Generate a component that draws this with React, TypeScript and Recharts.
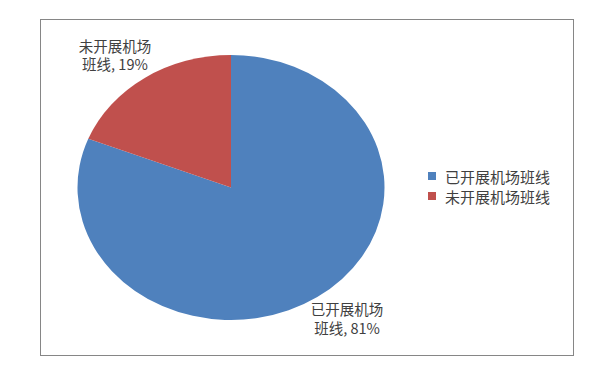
import { Cell, Legend, Pie, PieChart } from "recharts";

const categories = ["已开展机场班线", "未开展机场班线"];
const shares = [81, 19];
const labelLines = [
  ["已开展机场", "班线, 81%"],
  ["未开展机场", "班线, 19%"],
];

const COLORS = ["#4F81BD", "#C0504D"];
const FONT = "'Noto Sans CJK SC', 'Noto Sans', sans-serif";
const TEXT = "#404040";

// chart area is stretched wider than tall in the original
const CX = 231;
const CY = 187.5;
const RX = 153.5;
const RY = 132.5;
const SQUASH = RY / RX;

const data = categories.map((name, i) => ({ name, value: shares[i], lines: labelLines[i] }));

const RADIAN = Math.PI / 180;

function renderLabel(props: any) {
  const { cx, cy, midAngle, outerRadius, index } = props;
  const x = cx + Math.cos(-midAngle * RADIAN) * outerRadius * 1.345;
  const y = cy + Math.sin(-midAngle * RADIAN) * outerRadius * SQUASH * 1.2;
  const lines = data[index].lines;
  return (
    <text x={x} y={y} textAnchor="middle" fill={TEXT} fontSize={14.5} fontFamily={FONT}>
      <tspan x={x} dy={-4}>{lines[0]}</tspan>
      <tspan x={x} dy={18.5}>{lines[1]}</tspan>
    </text>
  );
}

function LegendContent() {
  return (
    <div style={{ fontFamily: FONT, fontSize: 15, color: TEXT }}>
      {categories.map((name, i) => (
        <div key={name} style={{ display: "flex", alignItems: "center", height: 20 }}>
          <span style={{ width: 8, height: 8, background: COLORS[i], marginRight: 9, display: "inline-block" }} />
          <span>{name}</span>
        </div>
      ))}
    </div>
  );
}

export default function App() {
  return (
    <div style={{ position: "absolute", left: 0, top: 0, width: 602, height: 374, background: "#fff" }}>
      <style>{`.recharts-pie-sector { transform: scaleY(${SQUASH}); transform-origin: ${CX}px ${CY}px; }`}</style>
      <div
        style={{
          position: "absolute",
          left: 40,
          top: 19,
          width: 532,
          height: 335,
          border: "1px solid #868686",
        }}
      />
      <PieChart
        width={602}
        height={374}
        margin={{ top: 0, right: 0, bottom: 0, left: 0 }}
        style={{ position: "absolute", left: 0, top: 0 }}
      >
        <Pie
          data={data}
          dataKey="value"
          nameKey="name"
          cx={CX}
          cy={CY}
          outerRadius={RX}
          startAngle={90}
          endAngle={-270}
          stroke="none"
          label={renderLabel}
          labelLine={false}
          isAnimationActive={false}
        >
          {data.map((d, i) => (
            <Cell key={d.name} fill={COLORS[i]} />
          ))}
        </Pie>
        <Legend
          content={<LegendContent />}
          layout="vertical"
          wrapperStyle={{ position: "absolute", left: 428, top: 166, width: 140 }}
        />
      </PieChart>
    </div>
  );
}
